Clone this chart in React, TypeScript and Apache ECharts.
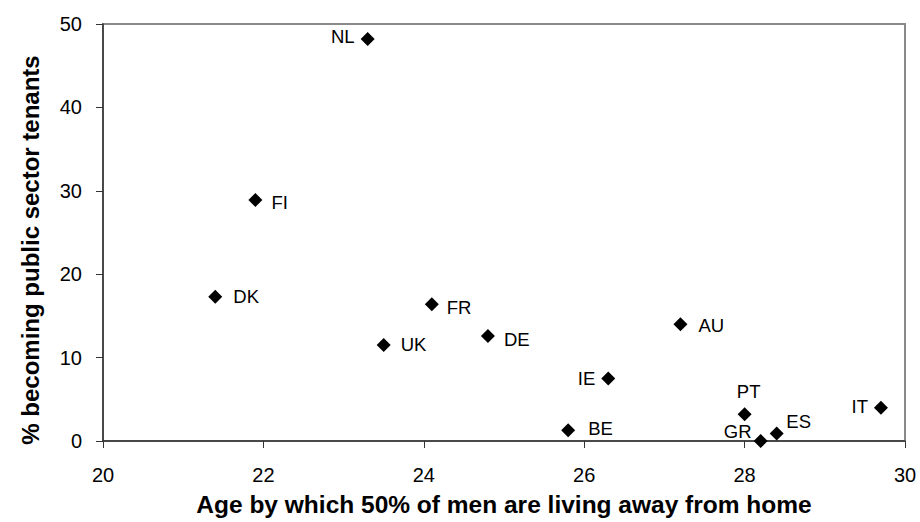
import React, { useEffect, useRef } from "react";
import * as echarts from "echarts";

const countries = ["NL", "FI", "DK", "UK", "FR", "DE", "AU", "IE", "PT", "GR", "ES", "IT", "BE"];
const ageX = [23.3, 21.9, 21.4, 23.5, 24.1, 24.8, 27.2, 26.3, 28.0, 28.2, 28.4, 29.7, 25.8];
const tenantY = [48.2, 28.9, 17.3, 11.5, 16.4, 12.6, 14.0, 7.5, 3.2, 0.0, 0.9, 4.0, 1.3];

const xTitle = "Age by which 50% of men are living away from home";
const yTitle = "% becoming public sector tenants";

// label placement (style only)
const labelPlace: Record<string, { position: string; distance?: number; offset?: number[] }> = {
  NL: { position: "left", distance: 6, offset: [0, -3] },
  FI: { position: "right", distance: 9, offset: [0, 3] },
  DK: { position: "right", distance: 11, offset: [0, 0] },
  UK: { position: "right", distance: 10, offset: [0, -1] },
  FR: { position: "right", distance: 8, offset: [0, 3] },
  DE: { position: "right", distance: 9, offset: [0, 4] },
  AU: { position: "right", distance: 11, offset: [0, 1] },
  IE: { position: "left", distance: 6, offset: [0, 0] },
  PT: { position: "inside", offset: [4, -23] },
  GR: { position: "inside", offset: [-23, -10] },
  ES: { position: "inside", offset: [22, -12] },
  IT: { position: "left", distance: 6, offset: [0, -1] },
  BE: { position: "right", distance: 13, offset: [0, -2] },
};

const FONT = "Liberation Sans, Arial, Helvetica, sans-serif";

export default function App() {
  const ref = useRef<HTMLDivElement>(null);
  useEffect(() => {
    if (!ref.current) return;
    const chart = echarts.init(ref.current, undefined, { renderer: "svg" });
    const data = countries.map((c, i) => {
      const p = labelPlace[c];
      return {
        name: c,
        value: [ageX[i], tenantY[i]],
        label: {
          show: true,
          position: p.position,
          distance: p.distance ?? 5,
          offset: p.offset ?? [0, 0],
          formatter: "{b}",
          color: "#000",
          fontSize: 18.5,
          fontFamily: FONT,
        },
      };
    });
    chart.setOption({
      animation: false,
      backgroundColor: "#fff",
      grid: {
        left: 103,
        right: 15,
        top: 24,
        bottom: 80,
        show: true,
        borderColor: "#8a8a8a",
        borderWidth: 2,
        backgroundColor: "transparent",
      },
      xAxis: {
        type: "value",
        min: 20,
        max: 30,
        interval: 2,
        name: xTitle,
        nameLocation: "middle",
        nameGap: 51,
        nameTextStyle: { fontSize: 24.5, fontWeight: "bold", color: "#000", fontFamily: FONT },
        axisLine: { show: true, onZero: false, lineStyle: { color: "#333", width: 1.5 } },
        axisTick: { show: true, inside: false, length: 7, lineStyle: { color: "#333", width: 1 } },
        axisLabel: { margin: 24, fontSize: 20, color: "#000", fontFamily: FONT },
        splitLine: { show: false },
      },
      yAxis: {
        type: "value",
        min: 0,
        max: 50,
        interval: 10,
        axisLine: { show: true, onZero: false, lineStyle: { color: "#333", width: 1.5 } },
        axisTick: { show: true, inside: false, length: 7, lineStyle: { color: "#333", width: 1 } },
        axisLabel: { margin: 21, fontSize: 20, color: "#000", fontFamily: FONT },
        splitLine: { show: false },
      },
      graphic: [
        {
          type: "text",
          x: 30,
          y: 250,
          rotation: Math.PI / 2,
          style: {
            text: yTitle,
            font: `bold 24px ${FONT}`,
            fill: "#000",
            textAlign: "center",
            textVerticalAlign: "middle",
            align: "center",
            verticalAlign: "middle",
          },
        },
      ],
      series: [
        {
          type: "scatter",
          symbol: "diamond",
          symbolSize: 14,
          itemStyle: { color: "#000", opacity: 1 },
          data,
        },
      ],
    });
    return () => chart.dispose();
  }, []);
  return (
    <div
      ref={ref}
      style={{ position: "absolute", left: 0, top: 0, width: 920, height: 522 }}
    />
  );
}
